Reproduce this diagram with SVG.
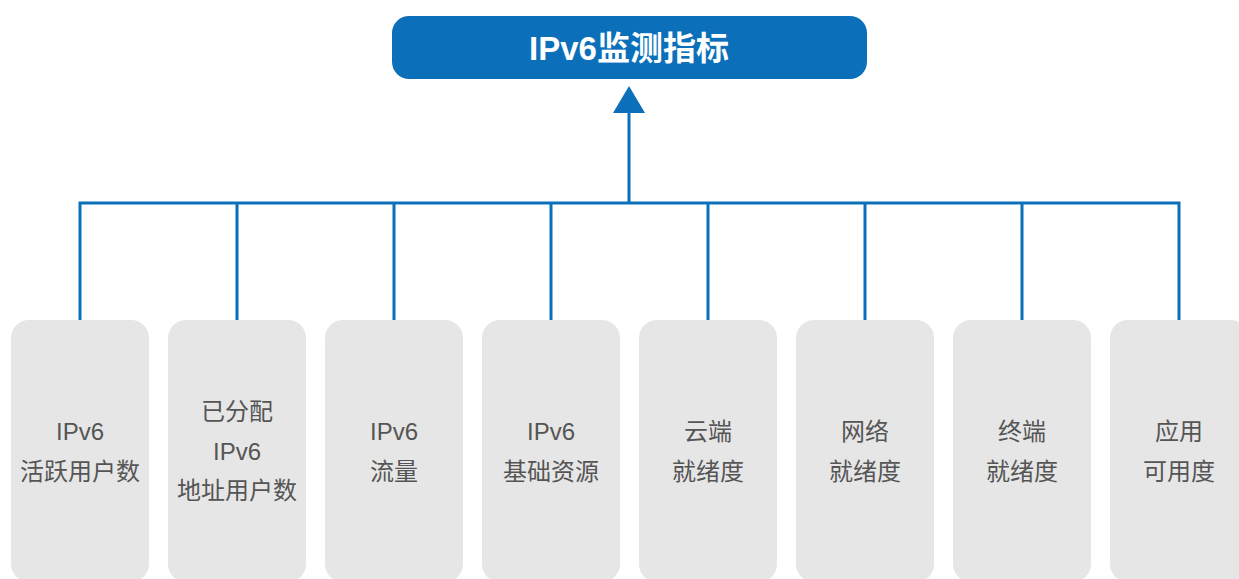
<svg xmlns="http://www.w3.org/2000/svg" width="1239" height="579" viewBox="0 0 1239 579">
<style>
.box{fill:#e6e6e6}
.t{font-family:"Liberation Sans","Noto Sans CJK SC",sans-serif;font-size:24px;fill:#555;text-anchor:middle}
.ln{stroke:#0b70b9;stroke-width:3;fill:none}
</style>
<rect width="1239" height="579" fill="#fff"/>
<g id="title">
<rect x="392" y="16" width="475" height="63" rx="17" fill="#0b70b9"/>
<text x="629" y="60" font-family="Liberation Sans,'Noto Sans CJK SC',sans-serif" font-size="33" font-weight="bold" fill="#fff" text-anchor="middle">IPv6监测指标</text>
</g>
<g id="connectors">
<path class="ln" d="M80,320V203H1179V320M237,203V320M394,203V320M551,203V320M708,203V320M865,203V320M1022,203V320M629,203V110"/>
<polygon points="629,86 613,113 645,113" fill="#0b70b9"/>
</g>
<g id="n1"><rect class="box" x="11" y="320" width="138" height="262" rx="18"/><text class="t" x="80" y="440">IPv6</text><text class="t" x="80" y="480">活跃用户数</text></g>
<g id="n2"><rect class="box" x="168" y="320" width="138" height="262" rx="18"/><text class="t" x="237" y="420">已分配</text><text class="t" x="237" y="460">IPv6</text><text class="t" x="237" y="499">地址用户数</text></g>
<g id="n3"><rect class="box" x="325" y="320" width="138" height="262" rx="18"/><text class="t" x="394" y="440">IPv6</text><text class="t" x="394" y="480">流量</text></g>
<g id="n4"><rect class="box" x="482" y="320" width="138" height="262" rx="18"/><text class="t" x="551" y="440">IPv6</text><text class="t" x="551" y="480">基础资源</text></g>
<g id="n5"><rect class="box" x="639" y="320" width="138" height="262" rx="18"/><text class="t" x="708" y="440">云端</text><text class="t" x="708" y="480">就绪度</text></g>
<g id="n6"><rect class="box" x="796" y="320" width="138" height="262" rx="18"/><text class="t" x="865" y="440">网络</text><text class="t" x="865" y="480">就绪度</text></g>
<g id="n7"><rect class="box" x="953" y="320" width="138" height="262" rx="18"/><text class="t" x="1022" y="440">终端</text><text class="t" x="1022" y="480">就绪度</text></g>
<g id="n8"><rect class="box" x="1110" y="320" width="138" height="262" rx="18"/><text class="t" x="1179" y="440">应用</text><text class="t" x="1179" y="480">可用度</text></g>
</svg>
